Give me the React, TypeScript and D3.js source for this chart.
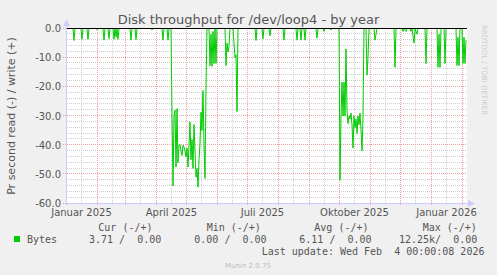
import React from "react";
import * as d3 from "d3";

const W = 497;
const H = 275;
const START = Date.UTC(2025, 0, 1);
const END = Date.UTC(2026, 1, 5);
const DAY = 86400000;

const yTicks = [0, -10, -20, -30, -40, -50, -60];
const yMinor = d3.range(0, -61, -2);
const monthLabels = ["Januar 2025", "April 2025", "Juli 2025", "Oktober 2025", "Januar 2026"];
const monthLabelDates = ["2025-01-01", "2025-04-01", "2025-07-01", "2025-10-01", "2026-01-01"];

// [day offset from 2025-01-01, read bytes/s (negative)]
const readSeries: [number, number][] = [
  [0, 0], [6, 0], [7, -4.1], [8, 0], [14, 0], [15, -3.7], [16, 0], [20, 0], [21, -3.7], [22, 0],
  [29, 0], [30, -0.4], [31, 0], [36, 0], [37, -4], [38, 0], [41, 0], [42, -3.5], [43, 0],
  [46, 0], [47, -3.7], [48, 0], [49, -3], [50, 0], [51, -3.7], [52, 0],
  [63, 0], [64, -4], [65, 0], [68, 0], [69, -3.8], [70, 0], [84, 0], [85, -0.5], [86, 0],
  [95, 0], [96, -4], [97, 0], [100, 0], [101, -4], [102, 0], [104, 0],
  [105, -30], [106, -54], [107, -30], [108, -28], [109, -47.5], [110, -27.5], [111, -46],
  [112, -40], [113, -39.8], [114, -42], [115, -43.5], [116, -40], [117, -40.7], [118, -42],
  [119, -44], [120, -41], [121, -47.5], [122, -40], [123, -32], [124, -45], [125, -38],
  [126, -48], [127, -33], [128, -42], [129, -51], [130, -48], [131, -54.4], [132, -45],
  [133, -39.5], [134, -28.7], [135, -35], [136, -21.3], [137, -40], [138, -51.4], [139, -20],
  [140, 0], [142, 0], [143, -12.7], [144, -2], [145, -13], [146, -1], [147, -12], [148, 0],
  [149, -12], [150, 0], [158, 0], [159, -12.7], [160, -5], [161, -8], [162, -6], [163, 0],
  [166, 0], [167, -5], [168, -10], [169, -9], [170, -28.5], [171, 0],
  [188, 0], [189, -4.1], [190, 0], [195, 0], [196, -3.5], [197, 0], [202, 0], [203, -2.5], [204, 0],
  [216, 0], [217, -4], [218, 0], [229, 0], [230, -4], [231, 0], [233, 0], [234, -4], [235, 0],
  [237, 0], [238, -4], [239, 0], [249, 0], [250, -3.3], [251, 0], [256, 0], [257, -1], [258, 0],
  [263, 0], [264, -0.5], [265, 0], [272, 0],
  [273, -52], [274, -30], [275, -18.4], [276, -30], [277, -18.4], [278, -30], [279, -7],
  [280, -28], [281, -32.6], [282, -30], [283, -31], [284, -29], [285, -33], [286, -41],
  [287, -30], [288, -34], [289, -31], [290, -36], [291, -30], [292, -33], [293, -29],
  [294, -35], [295, -42], [296, -30], [297, 0],
  [299, 0], [300, -16], [301, -10], [302, 0], [307, 0], [308, -4], [309, -2], [310, 0],
  [327, 0], [328, -13.3], [329, 0], [335, 0], [336, -1], [337, 0], [339, -1], [340, 0],
  [343, 0], [344, -1], [345, 0], [347, -5], [348, 0], [350, -2], [351, 0],
  [358, 0], [359, -12], [360, 0], [370, 0], [371, -13.3], [372, -2], [373, -13.3], [374, 0],
  [377, 0], [378, -12], [379, 0], [389, 0], [390, -12.7], [391, -3], [392, -12.7], [393, 0],
  [395, 0], [396, -12], [397, -3], [398, -12], [399, -4],
];

const FONT = "DejaVu Sans, sans-serif";
const MONO = "DejaVu Sans Mono, monospace";

export default function App() {
  const left = 66.5;
  const right = 466.5;
  const top = 28.5;
  const bottom = 203.5;
  const x = d3.scaleUtc().domain([START, END]).range([left, right]);
  const y = d3.scaleLinear().domain([-60, 0]).range([bottom, top]);

  const monthStarts = d3.utcMonth.range(new Date(START), new Date(END));
  const midMonths = monthStarts.map((m) => d3.utcDay.offset(m, 15)).filter((d) => +d < END);

  const line = d3
    .line<[number, number]>()
    .x((d) => x(START + d[0] * DAY + DAY / 2))
    .y((d) => y(d[1]));

  return (
    <svg
      width={W}
      height={H}
      style={{ position: "fixed", left: 0, top: 0, background: "#F0F0F0" }}
      shapeRendering="crispEdges"
    >
      <rect x={0} y={0} width={W} height={H} fill="#F0F0F0" />
      <rect x={67} y={28} width={400} height={175} fill="#FFFFFF" />
      {yMinor.map((v) => (
        <line key={"hm" + v} x1={67} x2={467} y1={Math.round(y(v)) - 0.5} y2={Math.round(y(v)) - 0.5}
          stroke="#CFCFCF" strokeDasharray="1,1" />
      ))}
      {midMonths.map((d, i) => (
        <line key={"vm" + i} x1={Math.floor(x(d)) + 0.5} x2={Math.floor(x(d)) + 0.5} y1={28} y2={203}
          stroke="#CFCFCF" strokeDasharray="1,1" />
      ))}
      {yTicks.map((v) => (
        <line key={"hM" + v} x1={63} x2={467} y1={Math.round(y(v)) - 0.5} y2={Math.round(y(v)) - 0.5}
          stroke="#E9A3A3" strokeDasharray="1,1" />
      ))}
      {monthStarts.map((d, i) => (
        <line key={"vM" + i} x1={Math.floor(x(d)) + 0.5} x2={Math.floor(x(d)) + 0.5} y1={28} y2={206}
          stroke="#E9A3A3" strokeDasharray="1,1" />
      ))}
      <path d={line(readSeries) || ""} fill="none" stroke="#00CC00" strokeWidth={1} shapeRendering="auto" />
      <line x1={67} x2={467} y1={28.5} y2={28.5} stroke="#000" strokeWidth={1} />
      <line x1={66.5} x2={66.5} y1={203} y2={24} stroke="#CCCCFF" />
      <path d="M63,26 L70,26 L66.5,19 Z" fill="#CCCCFF" shapeRendering="auto" />
      <line x1={66} x2={470} y1={203.5} y2={203.5} stroke="#CCCCFF" />
      <path d="M468,200 L468,207 L475,203.5 Z" fill="#CCCCFF" shapeRendering="auto" />
      {yTicks.map((v) => (
        <text key={"yl" + v} x={61} y={y(v) + 3.5} textAnchor="end" fontFamily={FONT} fontSize={10} fill="#555">
          {v.toFixed(1)}
        </text>
      ))}
      {monthLabelDates.map((s, i) => (
        <text key={"xl" + i} x={x(d3.utcDay.offset(new Date(s), 15))} y={216} textAnchor="middle"
          fontFamily={FONT} fontSize={10} fill="#555">
          {monthLabels[i]}
        </text>
      ))}
      <text x={248.5} y={24} textAnchor="middle" fontFamily={FONT} fontSize={13} fill="#555">
        Disk throughput for /dev/loop4 - by year
      </text>
      <text transform={`translate(15,${(top + bottom) / 2}) rotate(-90)`} textAnchor="middle"
        fontFamily={FONT} fontSize={11} fill="#555">
        Pr second read (-) / write (+)
      </text>
      <text transform="translate(482,70) rotate(90)" textAnchor="middle" fontFamily={FONT} fontSize={7} fill="#CCC">
        RRDTOOL / TOBI OETIKER
      </text>
      <g fontFamily={MONO} fontSize={10} fill="#555">
        <text x={98.3} y={231}>Cur (-/+)</text>
        <text x={206.7} y={231}>Min (-/+)</text>
        <text x={314.3} y={231}>Avg (-/+)</text>
        <text x={422.7} y={231}>Max (-/+)</text>
        <rect x={14} y={236} width={6} height={6} fill="#00CC00" />
        <text x={27} y={242.5}>Bytes</text>
        <text x={89} y={242.5} xmlSpace="preserve">3.71 /  0.00</text>
        <text x={194.3} y={242.5} xmlSpace="preserve">0.00 /  0.00</text>
        <text x={299.3} y={242.5} xmlSpace="preserve">6.11 /  0.00</text>
        <text x={399} y={242.5} xmlSpace="preserve">12.25k/  0.00</text>
        <text x={261.7} y={254.5} xmlSpace="preserve">Last update: Wed Feb  4 00:00:08 2026</text>
      </g>
      <text x={248} y={268} textAnchor="middle" fontFamily={FONT} fontSize={7} fill="#BBB">
        Munin 2.0.75
      </text>
    </svg>
  );
}
